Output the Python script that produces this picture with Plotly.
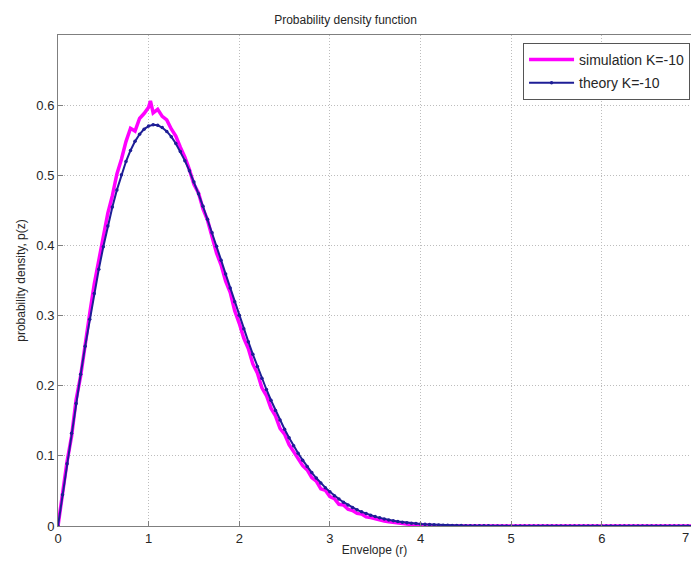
import plotly.graph_objects as go

# ---- data ----
theory_r = [0.00, 0.05, 0.10, 0.15, 0.20, 0.25, 0.30, 0.35, 0.40, 0.45,
            0.50, 0.55, 0.60, 0.65, 0.70, 0.75, 0.80, 0.85, 0.90, 0.95,
            1.00, 1.05, 1.10, 1.15, 1.20, 1.25, 1.30, 1.35, 1.40, 1.45,
            1.50, 1.55, 1.60, 1.65, 1.70, 1.75, 1.80, 1.85, 1.90, 1.95,
            2.00, 2.05, 2.10, 2.15, 2.20, 2.25, 2.30, 2.35, 2.40, 2.45,
            2.50, 2.55, 2.60, 2.65, 2.70, 2.75, 2.80, 2.85, 2.90, 2.95,
            3.00, 3.05, 3.10, 3.15, 3.20, 3.25, 3.30, 3.35, 3.40, 3.45,
            3.50, 3.55, 3.60, 3.65, 3.70, 3.75, 3.80, 3.85, 3.90, 3.95,
            4.00, 4.05, 4.10, 4.15, 4.20, 4.25, 4.30, 4.35, 4.40, 4.45,
            4.50, 4.55, 4.60, 4.65, 4.70, 4.75, 4.80, 4.85, 4.90, 4.95,
            5.00, 5.05, 5.10, 5.15, 5.20, 5.25, 5.30, 5.35, 5.40, 5.45,
            5.50, 5.55, 5.60, 5.65, 5.70, 5.75, 5.80, 5.85, 5.90, 5.95,
            6.00, 6.05, 6.10, 6.15, 6.20, 6.25, 6.30, 6.35, 6.40, 6.45,
            6.50, 6.55, 6.60, 6.65, 6.70, 6.75, 6.80, 6.85, 6.90, 6.95,
            7.00]
theory_p = [0.0000, 0.0444, 0.0886, 0.1321, 0.1748, 0.2163, 0.2564, 0.2949, 0.3314, 0.3659,
            0.3980, 0.4277, 0.4548, 0.4792, 0.5008, 0.5196, 0.5354, 0.5484, 0.5585, 0.5658,
            0.5702, 0.5721, 0.5713, 0.5681, 0.5626, 0.5550, 0.5454, 0.5340, 0.5209, 0.5064,
            0.4905, 0.4736, 0.4558, 0.4373, 0.4182, 0.3987, 0.3790, 0.3591, 0.3393, 0.3197,
            0.3003, 0.2813, 0.2628, 0.2448, 0.2274, 0.2107, 0.1946, 0.1793, 0.1648, 0.1510,
            0.1380, 0.1258, 0.1144, 0.1037, 0.0938, 0.0847, 0.0762, 0.0684, 0.0612, 0.0547,
            0.0487, 0.0433, 0.0384, 0.0339, 0.0299, 0.0263, 0.0231, 0.0202, 0.0177, 0.0154,
            0.0134, 0.0116, 0.0100, 0.0087, 0.0075, 0.0064, 0.0055, 0.0047, 0.0040, 0.0034,
            0.0029, 0.0024, 0.0021, 0.0017, 0.0015, 0.0012, 0.0010, 0.0008, 0.0007, 0.0006,
            0.0005, 0.0004, 0.0003, 0.0003, 0.0002, 0.0002, 0.0001, 0.0001, 0.0001, 0.0001,
            0.0000, 0.0000, 0.0000, 0.0000, 0.0000, 0.0000, 0.0000, 0.0000, 0.0000, 0.0000,
            0.0000, 0.0000, 0.0000, 0.0000, 0.0000, 0.0000, 0.0000, 0.0000, 0.0000, 0.0000,
            0.0000, 0.0000, 0.0000, 0.0000, 0.0000, 0.0000, 0.0000, 0.0000, 0.0000, 0.0000,
            0.0000, 0.0000, 0.0000, 0.0000, 0.0000, 0.0000, 0.0000, 0.0000, 0.0000, 0.0000,
            0.0000]

sim_r = [0.00, 0.05, 0.10, 0.15, 0.20, 0.25, 0.30, 0.35, 0.40, 0.45,
         0.50, 0.55, 0.60, 0.65, 0.70, 0.75, 0.80, 0.85, 0.90, 0.95,
         1.00, 1.02, 1.05, 1.10, 1.15, 1.20, 1.25, 1.30, 1.35, 1.40,
         1.45, 1.50, 1.55, 1.60, 1.65, 1.70, 1.75, 1.80, 1.85, 1.90,
         1.95, 2.00, 2.05, 2.10, 2.15, 2.20, 2.25, 2.30, 2.35, 2.40,
         2.45, 2.50, 2.55, 2.60, 2.65, 2.70, 2.75, 2.80, 2.85, 2.90,
         2.95, 3.00, 3.05, 3.10, 3.15, 3.20, 3.25, 3.30, 3.35, 3.40,
         3.45, 3.50, 3.55, 3.60, 3.65, 3.70, 3.75, 3.80, 3.85, 3.90,
         3.95, 4.00, 4.05, 4.10, 4.15, 4.50, 5.00, 5.50, 6.00, 6.50,
         7.00]
sim_p = [0.000, 0.046, 0.092, 0.128, 0.180, 0.214, 0.262, 0.303, 0.345, 0.381,
         0.412, 0.446, 0.471, 0.502, 0.523, 0.548, 0.567, 0.563, 0.581, 0.588,
         0.597, 0.606, 0.589, 0.594, 0.584, 0.579, 0.566, 0.556, 0.540, 0.526,
         0.508, 0.487, 0.475, 0.452, 0.436, 0.413, 0.389, 0.372, 0.349, 0.333,
         0.307, 0.289, 0.268, 0.253, 0.231, 0.218, 0.197, 0.186, 0.168, 0.157,
         0.139, 0.131, 0.116, 0.106, 0.097, 0.086, 0.080, 0.069, 0.064, 0.053,
         0.051, 0.042, 0.039, 0.031, 0.030, 0.024, 0.022, 0.018, 0.017, 0.013,
         0.012, 0.010, 0.009, 0.007, 0.006, 0.005, 0.004, 0.004, 0.003, 0.002,
         0.002, 0.001, 0.001, 0.001, 0.000, 0.000, 0.000, 0.000, 0.000, 0.000,
         0.000]

x_ticks = [0, 1, 2, 3, 4, 5, 6]
y_ticks = [0, 0.1, 0.2, 0.3, 0.4, 0.5, 0.6]

FONT = "Liberation Sans, Arial, sans-serif"
AXIS_COL = "#7f7f7f"
GRID_COL = "#bdbdbd"
TXT = "#262626"

fig = go.Figure()
fig.add_trace(go.Scatter(
    x=sim_r, y=sim_p, mode="lines", name="simulation K=-10", legendgroup="sim",
    line=dict(color="#ff00ff", width=3.5)))
fig.add_trace(go.Scatter(
    x=theory_r, y=theory_p, mode="lines+markers", name="theory K=-10", legendgroup="th",
    line=dict(color="#1e1e96", width=2),
    marker=dict(color="#1e1e96", size=3.5)))

X_END = 6.985
fig.update_layout(
    width=691, height=563,
    margin=dict(l=58, r=0, t=35, b=37),
    paper_bgcolor="white", plot_bgcolor="white",
    font=dict(family=FONT, size=13, color=TXT),
    title=dict(text="Probability density function", x=0.5, xanchor="center",
               y=1 - 20 / 563, yanchor="middle", font=dict(size=12, color=TXT)),
    showlegend=True,
    legend=dict(x=0.9985, xanchor="right", y=1 - 8 / 491, yanchor="top",
                bgcolor="white", bordercolor="#555555", borderwidth=1,
                font=dict(size=14, color=TXT), traceorder="grouped",
                tracegroupgap=2, itemwidth=45),
    xaxis=dict(range=[0, X_END], tickvals=x_ticks, ticktext=[str(v) for v in x_ticks],
               showgrid=True, gridcolor=GRID_COL, griddash="1px,2px", gridwidth=1,
               showline=True, linecolor=AXIS_COL, linewidth=1, mirror=True,
               ticks="inside", ticklen=5, tickcolor=AXIS_COL,
               zeroline=False, tickfont=dict(size=13),
               title=dict(text="Envelope (r)", standoff=1, font=dict(size=12))),
    yaxis=dict(range=[0, 0.7], tickvals=y_ticks, ticktext=[str(v) for v in y_ticks],
               showgrid=True, gridcolor=GRID_COL, griddash="1px,2px", gridwidth=1,
               showline=True, linecolor=AXIS_COL, linewidth=1, mirror=False,
               ticks="inside", ticklen=5, tickcolor=AXIS_COL,
               zeroline=False, tickfont=dict(size=13),
               title=dict(text="probability density, p(z)", standoff=8, font=dict(size=12))),
)
# tick label "7" at the right edge of the figure
fig.add_annotation(text="7", xref="paper", yref="paper", x=1.0, y=0,
                   xanchor="right", yanchor="top", yshift=-2, showarrow=False,
                   font=dict(size=13, color=TXT))

fig.write_html("out.html")
